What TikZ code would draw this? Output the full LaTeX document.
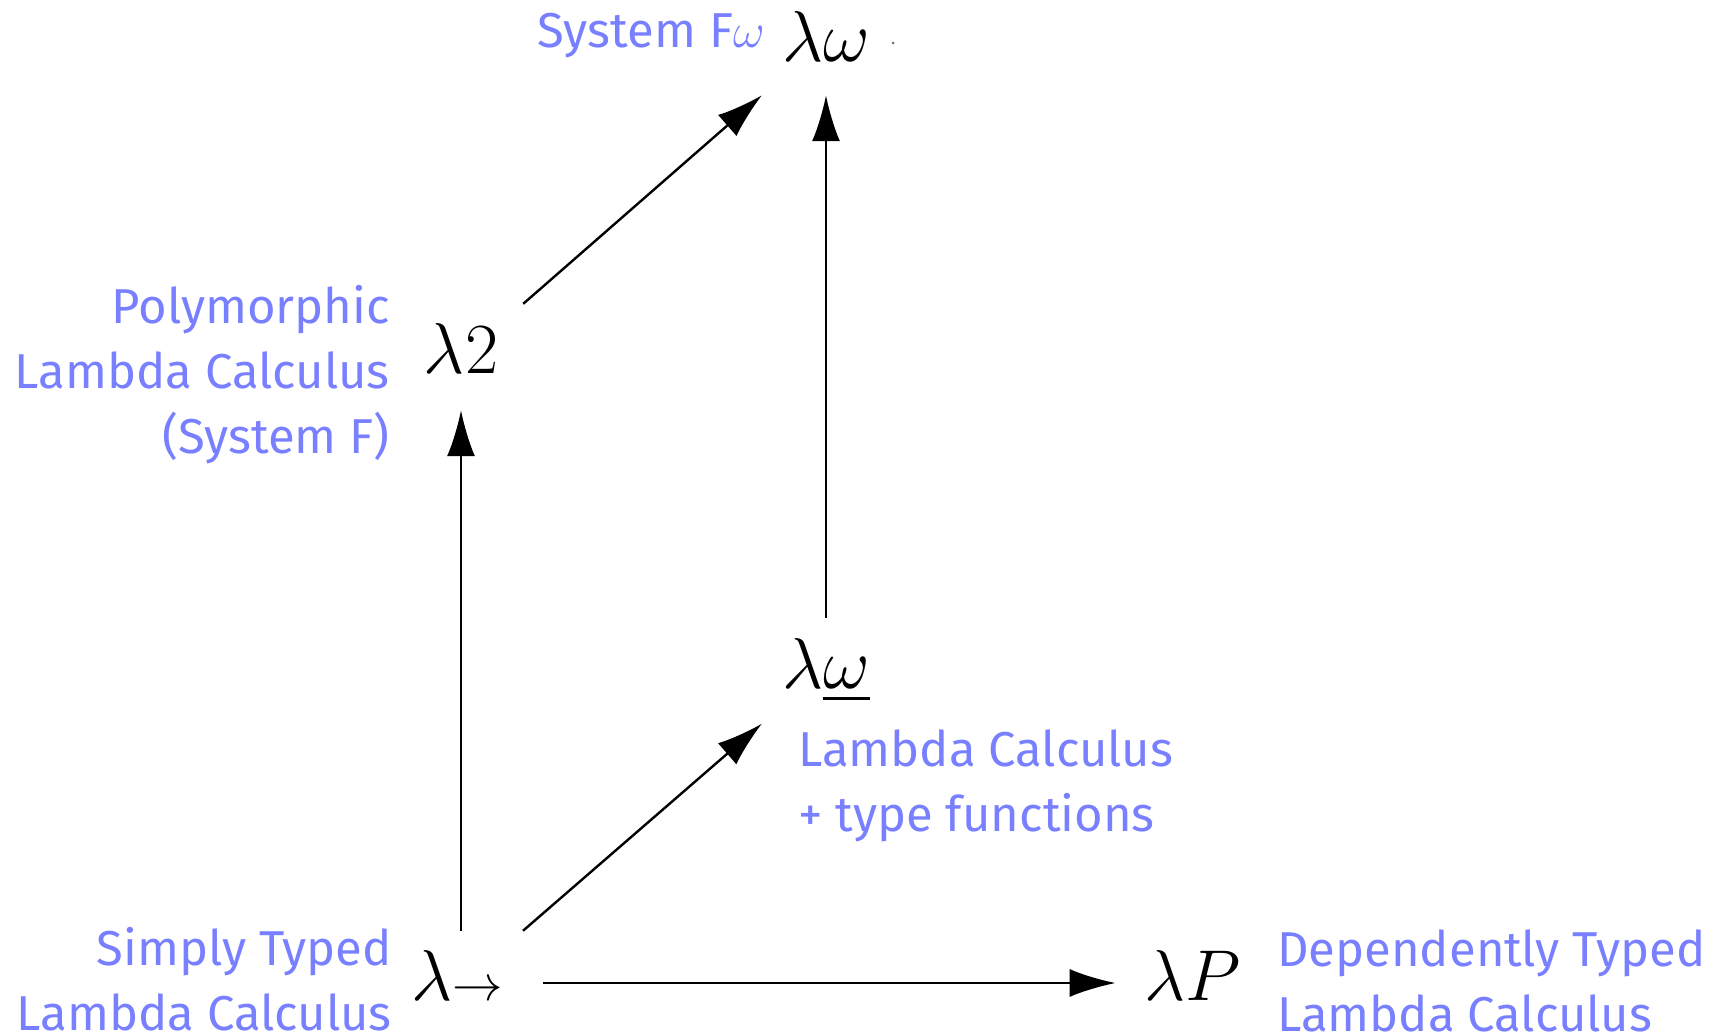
\RequirePackage{fix-cm}
\documentclass[tikz,border=0pt]{standalone}
\usepackage{amsmath,amssymb}
\usepackage{graphicx}
\usepackage{fontspec}
\setsansfont{Fira Sans}
\usepackage{tikz}
\usetikzlibrary{calc,arrows.meta}
\usepackage{xcolor}
\definecolor{lbl}{RGB}{120,128,255}

\begin{document}
\begin{tikzpicture}[x=1pt,y=-1pt,
  sym/.style={inner sep=0pt,anchor=base,font=\fontsize{72}{72}\selectfont},
  lbl/.style={inner sep=0pt,text=lbl,font=\sffamily\fontsize{49}{65}\selectfont},
  arr/.style={line width=2.4pt,-{Latex[length=46pt,width=28pt]}}]

\useasboundingbox (0,0) rectangle (1714,1036);

% the cube corners
\node[sym] (ltop) at (826,61) {$\lambda\omega$};
\node[sym] (ltwo) at (461,373) {$\lambda2$};
\node[sym] (lwu) at (826,688) {$\lambda\underline{\omega}$};
\node[sym] (lto) at (457,1000) {$\lambda$\scalebox{.7}{$\rightarrow$}};
\node[sym] (lP) at (1193,1000) {$\lambda P$};
\fill[black!55] (893,43) circle (1.5pt);

% names (base = last line)
\node[lbl,anchor=base east] (nfw) at (765,47) {System F$\omega$};
\node[lbl,anchor=base east,align=right] (npoly) at (390,453)
  {Polymorphic\\Lambda Calculus\\(System F)};
\node[lbl,anchor=base west,align=left] (ntf) at (798,831)
  {Lambda Calculus\\+ type functions};
\node[lbl,anchor=base east,align=right] (nst) at (392,1030)
  {Simply Typed\\Lambda Calculus};
\node[lbl,anchor=base west,align=left] (ndt) at (1277,1031)
  {Dependently Typed\\Lambda Calculus};

% arrows
\draw[arr,shorten <=19pt,shorten >=37pt] (lto.north -| ltwo.south) -- (ltwo.south);
\draw[arr] ([shift={(20,-19)}]lto.north east) -- ([shift={(-20,21)}]lwu.south west);
\draw[arr] ([shift={(40,-17)}]lto.base east) -- ([shift={(-29,-17)}]lP.base west);
\draw[arr] ([shift={(25,-19)}]ltwo.north east) -- ([shift={(-20,34)}]ltop.south west);
\draw[arr,shorten <=20pt,shorten >=34pt] (lwu.north) -- (ltop.south);

\end{tikzpicture}
\end{document}
